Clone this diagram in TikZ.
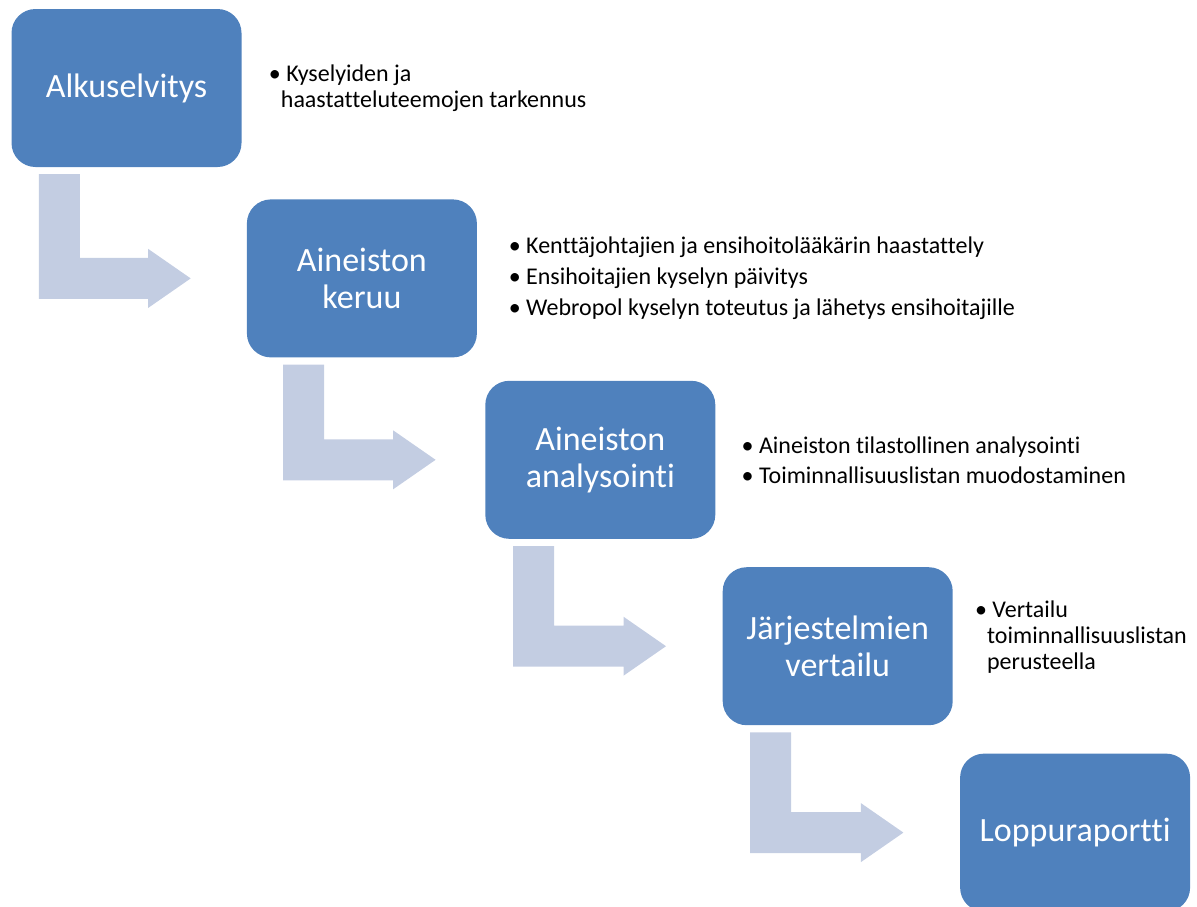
\documentclass[tikz,border=0pt]{standalone}
\usepackage{fontspec}
\setmainfont{Carlito}[Ligatures=NoCommon]
\usepackage{xcolor}
\usepackage{tikz}
\usetikzlibrary{positioning,calc}

\definecolor{boxblue}{HTML}{4F81BD}
\definecolor{flowgray}{HTML}{C3CDE2}

\tikzset{
  phase/.style={fill=boxblue, rounded corners=24pt, minimum width=230pt, minimum height=158pt,
    inner sep=0pt, text=white, align=center, font=\fontsize{34}{37}\selectfont},
  notes/.style={inner sep=0pt, align=left, font=\fontsize{24}{26}\selectfont},
  flow/.style={fill=flowgray}
}

% indent of a wrapped bullet line
\newcommand{\wrapind}{\hspace*{12pt}}
% bent arrow: from the bottom of #1 to the left side of #2
\newcommand{\bentarrow}[4]{%
  \fill[flow] let \p1=([xshift=#3,yshift=-7pt]#1.south west), \p2=([xshift=-#4]#2.west) in
    (\x1,\y1) -- (\x1+41pt,\y1) -- (\x1+41pt,\y2+20.5pt) -- (\x2-42.5pt,\y2+20.5pt)
    -- (\x2-42.5pt,\y2+29.5pt) -- (\x2,\y2) -- (\x2-42.5pt,\y2-29.5pt)
    -- (\x2-42.5pt,\y2-20.5pt) -- (\x1,\y2-20.5pt) -- cycle;}

\begin{document}
\begin{tikzpicture}[x=1pt, y=-1pt]
  \useasboundingbox (0,0) rectangle (1197,906);

  \node[phase] (b1) at (126.5,88) {Alkuselvitys};
  \node[phase, below right=32pt and 5pt of b1] (b2) {Aineiston\\keruu};
  \node[phase, below right=23pt and 8pt of b2] (b3) {Aineiston\\analysointi};
  \node[phase, below right=28pt and 7pt of b3] (b4) {Järjestelmien\\vertailu};
  \node[phase, below right=28pt and 7pt of b4] (b5) {Loppuraportti};

  \node[notes, right=27pt of b1] (n1) {\textbullet\ Kyselyiden ja\\\wrapind haastatteluteemojen tarkennus};
  \node[notes, right=31.5pt of b2] (n2) {\textbullet\ Kenttäjohtajien ja ensihoitolääkärin haastattely\\[5pt]
    \textbullet\ Ensihoitajien kyselyn päivitys\\[5pt]
    \textbullet\ Webropol kyselyn toteutus ja lähetys ensihoitajille};
  \node[notes, right=26pt of b3] (n3) {\textbullet\ Aineiston tilastollinen analysointi\\[4pt]
    \textbullet\ Toiminnallisuuslistan muodostaminen};
  \node[notes, right=22pt of b4, yshift=9pt] (n4) {\textbullet\ Vertailu\\\wrapind toiminnallisuuslistan\\\wrapind perusteella};

  \bentarrow{b1}{b2}{27.5pt}{56pt}
  \bentarrow{b2}{b3}{36.5pt}{49.5pt}
  \bentarrow{b3}{b4}{28pt}{56.5pt}
  \bentarrow{b4}{b5}{27.5pt}{56.5pt}
\end{tikzpicture}
\end{document}
